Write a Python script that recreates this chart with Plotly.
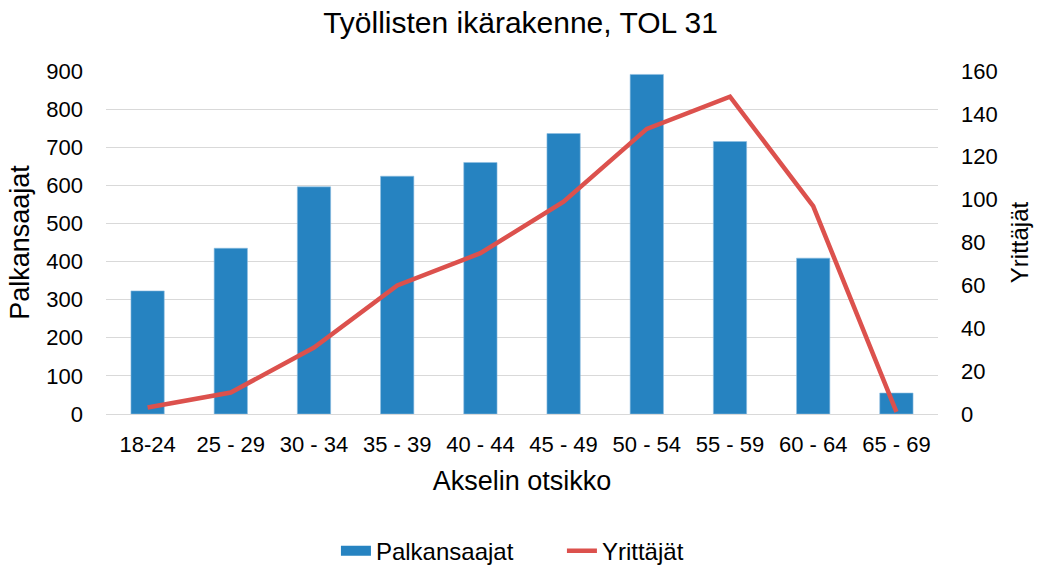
import plotly.graph_objects as go

categories = ["18-24", "25 - 29", "30 - 34", "35 - 39", "40 - 44", "45 - 49", "50 - 54", "55 - 59", "60 - 64", "65 - 69"]
palkansaajat = [323, 435, 596, 624, 660, 736, 891, 715, 409, 55]
yrittajat = [3, 10, 31, 60, 75, 99, 133, 148, 97, 1]

font = "Liberation Sans, Arial, sans-serif"
blue = "#2683C1"
red = "#DC514D"

fig = go.Figure()
fig.add_trace(go.Bar(x=categories, y=palkansaajat, name="Palkansaajat", showlegend=False,
                     marker=dict(color=blue, line=dict(color="#8DBDE0", width=0.6)), yaxis="y"))
# legend entry drawn as a wide swatch like the original
fig.add_trace(go.Scatter(x=[None], y=[None], mode="lines", name="Palkansaajat",
                         line=dict(color=blue, width=12), yaxis="y"))
fig.add_trace(go.Scatter(x=categories, y=yrittajat, name="Yrittäjät", mode="lines",
                         line=dict(color=red, width=4.5), yaxis="y2"))

fig.update_layout(
    width=1041, height=566,
    paper_bgcolor="white", plot_bgcolor="white",
    font=dict(family=font, size=22, color="#000000"),
    title=dict(text="Työllisten ikärakenne, TOL 31", x=0.5, xanchor="center", xref="container",
               y=1 - 22 / 566, yref="container", yanchor="middle",
               font=dict(size=30, color="#000000")),
    margin=dict(l=106, r=103, t=71, b=152, autoexpand=False),
    bargap=0.6,
    xaxis=dict(title=dict(text="Akselin otsikko", font=dict(size=27), standoff=15), tickfont=dict(size=22),
               showgrid=False, showline=False, ticks="", ticklabelstandoff=15, automargin=False),
    yaxis=dict(title=dict(text="Palkansaajat", font=dict(size=27), standoff=8), range=[0, 900], dtick=100,
               tickfont=dict(size=22), gridcolor="#D9D9D9", gridwidth=1.3, zeroline=True,
               zerolinecolor="#D9D9D9", zerolinewidth=1.3, showline=False, ticks="", ticklabelstandoff=22,
               automargin=False),
    yaxis2=dict(title=dict(text="Yrittäjät", font=dict(size=24), standoff=14), range=[0, 160], dtick=20,
                overlaying="y", side="right", showgrid=False, zeroline=False, tickfont=dict(size=22),
                showline=False, ticks="", ticklabelstandoff=22, automargin=False),
    legend=dict(orientation="h", x=0.548, xanchor="center", y=-0.40, yanchor="middle",
                font=dict(size=24), entrywidth=181),
)

fig.write_html("out.html", config={"displayModeBar": False},
               post_script="document.body.style.margin='0';document.body.style.overflow='hidden';")
